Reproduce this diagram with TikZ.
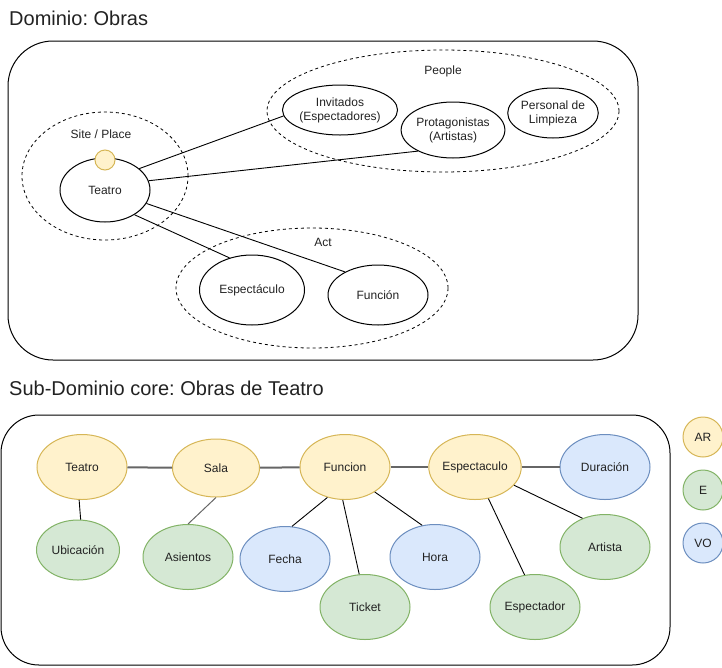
\documentclass[tikz,border=0pt]{standalone}
\usepackage{fontspec}
\setmainfont{Liberation Sans}
\frenchspacing
\usetikzlibrary{shapes.geometric}
\definecolor{yf}{HTML}{FFF2CC}\definecolor{ys}{HTML}{D6B656}
\definecolor{gf}{HTML}{D5E8D4}\definecolor{gs}{HTML}{82B366}
\definecolor{bf}{HTML}{DAE8FC}\definecolor{bs}{HTML}{6C8EBF}
\definecolor{tx}{HTML}{222222}
\tikzset{
  ell/.style={ellipse,draw,line width=1pt,inner sep=0pt,align=center,font=\fontsize{12}{14}\selectfont,text=tx},
  grp/.style={ellipse,draw,line width=0.8pt,dash pattern=on 3pt off 3pt,inner sep=0pt},
  lbl/.style={font=\fontsize{12}{14}\selectfont,text=tx,inner sep=0pt},
  ttl/.style={font=\fontsize{20}{24}\selectfont,text=tx,inner sep=0pt,anchor=west},
  ar/.style={ell,fill=yf,draw=ys},
  en/.style={ell,fill=gf,draw=gs},
  vo/.style={ell,fill=bf,draw=bs},
  thick link/.style={draw=black!60,line width=2pt},
  link/.style={draw=black,line width=0.9pt},
  box/.style={draw=black,line width=1pt}
}
\begin{document}
\begin{tikzpicture}[x=1pt,y=-1pt]
\useasboundingbox (0,0) rectangle (722,667);
% ---------- top domain ----------
\node[ttl] (t1) at (9,18) {Dominio: Obras};
\draw[box,rounded corners=45pt] (8,41) rectangle (638,360);
\node[grp,minimum width=166pt,minimum height=128pt] (site) at (105,176) {};
\node[lbl] (sitel) at (101,134) {Site / Place};
\node[grp,minimum width=352pt,minimum height=122pt] (people) at (443,111) {};
\node[lbl] (peoplel) at (443,71) {People};
\node[grp,minimum width=272pt,minimum height=120pt] (act) at (312,288) {};
\node[lbl] (actl) at (323,242) {Act};

\node[ell,minimum width=90pt,minimum height=64pt] (teatroA) at (105,190) {Teatro};
\node[ell,fill=yf,draw=ys,circle,minimum size=20pt] (dot) at (105,160) {};
\node[ell,minimum width=114pt,minimum height=50pt] (inv) at (340,110) {Invitados\\(Espectadores)};
\node[ell,minimum width=90pt,minimum height=56pt] (prot) at (453,130) {Protagonistas\\(Artistas)};
\node[ell,minimum width=90pt,minimum height=50pt] (pers) at (553,113) {Personal de\\Limpieza};
\node[ell,minimum width=105pt,minimum height=70pt] (espA) at (252,290) {Espectáculo};
\node[ell,minimum width=100pt,minimum height=60pt] (funA) at (378,295) {Función};

\draw[link] (teatroA.32) -- (inv.186);
\draw[link] (teatroA.12) -- (prot.-149);
\draw[link] (teatroA.-40) -- (espA.125);
\draw[link] (teatroA.-18) -- (funA.145);

% ---------- bottom sub-domain ----------
\node[ttl] (t2) at (9,388) {Sub-Dominio core: Obras de Teatro};
\draw[box,rounded corners=38pt] (1,415) rectangle (670,665);

\node[ar,minimum width=90pt,minimum height=65pt] (teatro) at (82,467) {Teatro};
\node[ar,minimum width=87pt,minimum height=58pt] (sala) at (216,468) {Sala};
\node[ar,minimum width=90pt,minimum height=65pt] (funcion) at (345,467) {Funcion};
\node[ar,minimum width=90pt,minimum height=65pt] (espect) at (475,467) {Espectaculo};
\node[vo,minimum width=90pt,minimum height=65pt] (dur) at (605,467) {Duración};
\node[en,minimum width=83pt,minimum height=60pt] (ubi) at (78,550) {Ubicación};
\node[en,minimum width=90pt,minimum height=65pt] (asi) at (188,557) {Asientos};
\node[vo,minimum width=90pt,minimum height=65pt] (fecha) at (285,559) {Fecha};
\node[en,minimum width=90pt,minimum height=65pt] (ticket) at (365,607) {Ticket};
\node[vo,minimum width=90pt,minimum height=65pt] (hora) at (435,557) {Hora};
\node[en,minimum width=90pt,minimum height=65pt] (espdor) at (535,607) {Espectador};
\node[en,minimum width=90pt,minimum height=65pt] (art) at (605,547) {Artista};

\draw[thick link] (teatro) -- (sala);
\draw[thick link] (sala) -- (funcion);
\draw[thick link] (funcion) -- (espect);
\draw[thick link] (espect) -- (dur);
\draw[link] (teatro.-95) -- (ubi.85);
\draw[draw=black!60,line width=1pt] (sala.south) -- (asi.north);
\draw[link] (funcion.-120) -- (fecha.78);
\draw[link] (funcion.-94) -- (ticket.100);
\draw[link] (funcion.-40) -- (hora.112);
\draw[link] (espect.-67) -- (espdor.108);
\draw[link] (espect.-25) -- (art.128);

% legend
\node[ar,circle,minimum size=40pt] (lAR) at (703,437) {AR};
\node[en,circle,minimum size=40pt] (lE) at (703,490) {E};
\node[vo,circle,minimum size=40pt] (lVO) at (703,543) {VO};
\end{tikzpicture}
\end{document}
